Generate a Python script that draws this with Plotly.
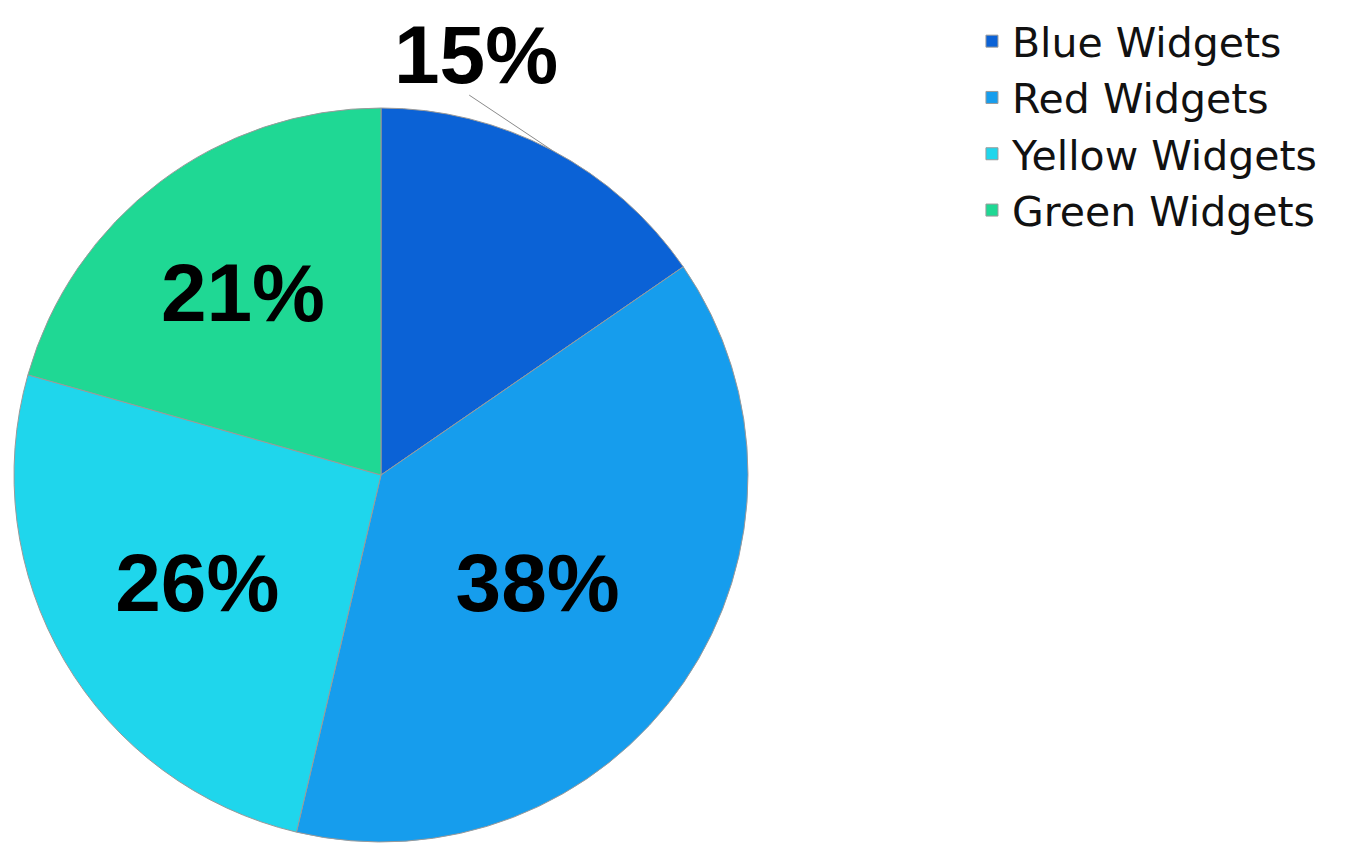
import math
import plotly.graph_objects as go

categories = ["Blue Widgets", "Red Widgets", "Yellow Widgets", "Green Widgets"]
values = [15.4, 38.3, 25.7, 20.6]
colors = ["#0b62d6", "#169ded", "#1fd6ec", "#1fd894"]
text_positions = ["none", "inside", "inside", "inside"]

W, H = 1345, 845
# pie placement (figure pixels)
CX, CY, R = 373, 467, 367
dom_x = [(CX - R) / W, (CX + R) / W]
dom_y = [1 - (CY + R) / H, 1 - (CY - R) / H]

label_font = dict(family="Liberation Sans, Arial, sans-serif", size=82, color="#000000", weight="bold")

fig = go.Figure(go.Pie(
    labels=categories,
    values=values,
    sort=False,
    direction="clockwise",
    rotation=0,
    marker=dict(colors=colors, line=dict(color="#9a9a9a", width=1)),
    textinfo="percent",
    texttemplate="%{percent:.0%}",
    textposition=text_positions,
    insidetextorientation="horizontal",
    textfont=label_font,
    domain=dict(x=dom_x, y=dom_y),
    hoverinfo="label+percent",
))

# outside label for the first slice, with a leader line to the slice's mid-angle on the rim
total = sum(values)
mid_angle = math.radians(values[0] / 2 / total * 360)
px = CX + R * math.sin(mid_angle)
py = CY - R * math.cos(mid_angle)
fig.add_annotation(
    x=px / W, y=1 - py / H, xref="paper", yref="paper",
    text="", showarrow=True, arrowhead=0, arrowwidth=1, arrowcolor="#8a8a8a",
    ax=-84, ay=-56,
)
fig.add_annotation(
    x=px / W, y=1 - py / H, xref="paper", yref="paper",
    text=f"{round(values[0] / total * 100)}%",
    font=label_font, borderpad=0,
    showarrow=True, arrowwidth=0.1, arrowcolor="rgba(0,0,0,0)", arrowhead=0,
    ax=-76, ay=-96,
)

fig.update_layout(
    width=W,
    height=H,
    margin=dict(l=0, r=0, t=0, b=0),
    paper_bgcolor="white",
    plot_bgcolor="white",
    showlegend=True,
    legend=dict(
        x=0.7167, y=1.0, xanchor="left", yanchor="top",
        font=dict(family="DejaVu Sans, sans-serif", size=41, color="#111111"),
        tracegroupgap=0,
    ),
)

fig.write_html("out.html")
